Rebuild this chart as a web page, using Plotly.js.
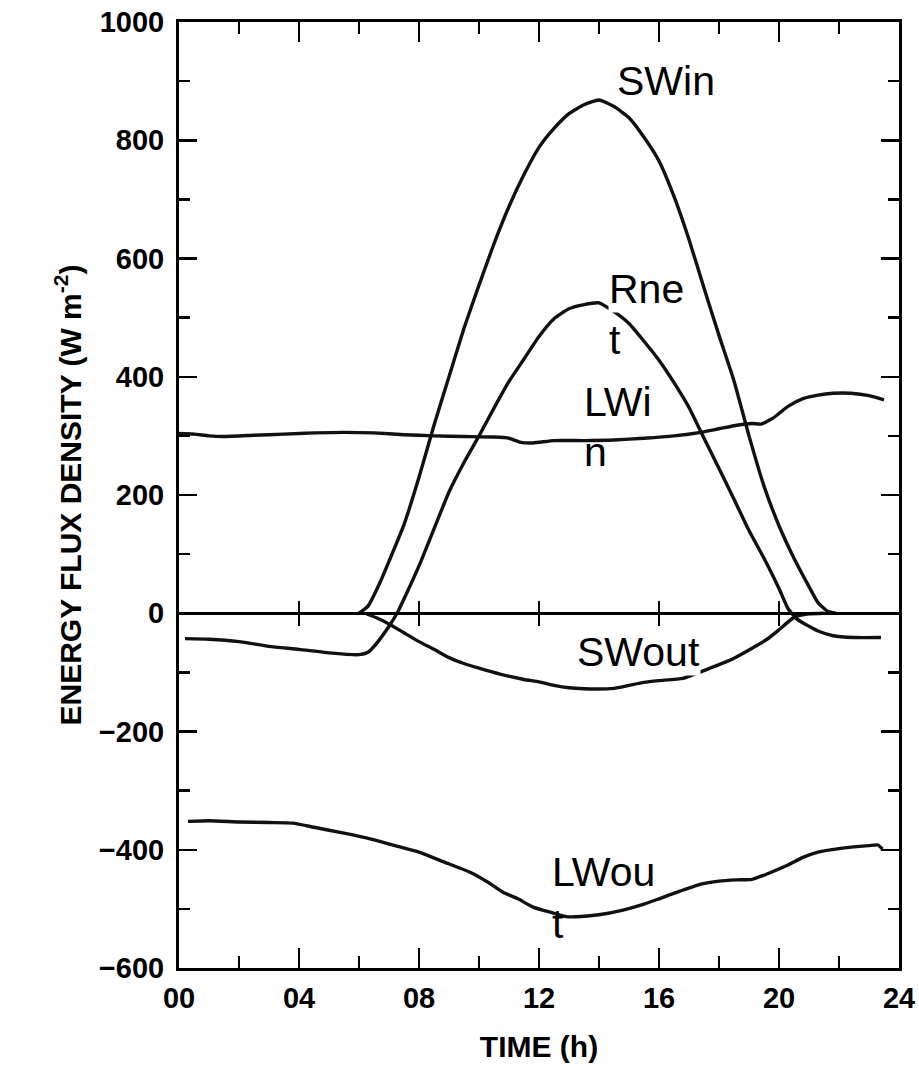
<!DOCTYPE html>
<html>
<head>
<meta charset="utf-8">
<script src="https://cdn.plot.ly/plotly-3.0.1.min.js"></script>
<style>html,body{margin:0;padding:0;background:#fff;}#chart{width:919px;height:1087px;}</style>
</head>
<body>
<div id="chart"></div>
<script>
// ---- Data (hours, W m-2) ----
const swinHours = [6.0, 6.3, 6.7, 7.0, 7.5, 8.0, 8.5, 9.0, 9.5, 10.0, 10.5, 11.0, 11.5, 12.0, 12.5, 13.0, 13.5, 14.0, 14.5, 15.0, 15.5, 16.0, 16.5, 17.0, 17.5, 18.0, 18.5, 19.0, 19.5, 20.0, 20.5, 21.0, 21.3, 21.6, 21.9];
const swinValues = [0, 12, 52, 88, 150, 230, 318, 400, 482, 555, 625, 688, 742, 788, 820, 845, 860, 868, 857, 838, 805, 765, 705, 632, 550, 470, 393, 300, 215, 148, 93, 45, 18, 4, 0];

const rnetHours = [0.2, 1.0, 2.0, 3.0, 4.0, 5.0, 6.0, 6.3, 6.6, 7.0, 7.3, 7.6, 8.0, 8.4, 9.0, 9.5, 10.0, 10.5, 11.0, 11.5, 12.0, 12.5, 13.0, 13.5, 14.0, 14.5, 15.0, 15.5, 16.0, 16.5, 17.0, 17.5, 18.0, 18.5, 19.0, 19.5, 20.0, 20.3, 20.6, 21.0, 21.3, 21.8, 22.5, 23.4];
const rnetValues = [-43, -44, -48, -56, -61, -67, -70, -66, -50, -22, 3, 35, 80, 130, 205, 255, 300, 347, 392, 430, 468, 498, 515, 522, 525, 510, 490, 460, 428, 390, 348, 296, 245, 193, 140, 93, 42, 8, -10, -22, -30, -38, -41, -41];

const swoutHours = [6.2, 6.6, 7.0, 7.5, 8.0, 8.5, 9.0, 9.5, 10.0, 10.7, 11.5, 12.0, 12.5, 13.0, 13.7, 14.5, 15.0, 15.5, 16.0, 16.8, 17.6, 18.0, 18.5, 19.0, 19.6, 20.0, 20.5, 21.0, 21.5];
const swoutValues = [0, -8, -18, -33, -48, -61, -75, -85, -93, -103, -112, -116, -122, -126, -128, -127, -122, -117, -114, -110, -95, -87, -76, -62, -44, -28, -7, -1, 0];

const lwinHours = [0.0, 0.5, 1.0, 1.5, 2.5, 3.5, 4.5, 5.5, 6.5, 7.5, 8.5, 9.5, 10.5, 11.0, 11.4, 11.8, 12.5, 13.5, 14.5, 15.5, 16.5, 17.4, 18.0, 18.6, 19.1, 19.4, 19.8, 20.3, 20.8, 21.3, 21.8, 22.4, 23.0, 23.5];
const lwinValues = [304, 303, 300, 299, 301, 303, 305, 306, 305, 302, 300, 299, 298, 296, 289, 288, 292, 292, 293, 296, 300, 306, 312, 318, 321, 320, 330, 350, 363, 369, 372, 372, 368, 361];

const lwoutHours = [0.3, 1.0, 2.0, 3.0, 3.8, 4.5, 5.5, 6.4, 7.2, 8.0, 8.8, 9.7, 10.3, 10.8, 11.3, 11.8, 12.4, 12.9, 13.4, 14.0, 14.8, 15.5, 16.0, 16.7, 17.4, 18.0, 18.6, 19.1, 19.6, 20.2, 20.8, 21.3, 22.0, 23.0, 23.3, 23.45];
const lwoutValues = [-352, -351, -353, -354, -355, -362, -372, -382, -393, -404, -420, -438, -455, -472, -483, -497, -506, -513, -513, -510, -502, -492, -483, -470, -458, -453, -451, -450, -441, -428, -413, -404, -398, -393, -392, -399];

const xTickStart = 0, xTickStep = 4;
const yTickStart = -600, yTickStep = 200;
const zeroLineTicks = [4, 8, 12, 16, 20];

// Series labels as drawn on the chart (wrapped as in the original)
const labels = [
  {text: 'SWin',  h: 14.57, v: 900,  box: false},
  {text: 'Rne',   h: 14.30, v: 548,  box: true},
  {text: 't',     h: 14.30, v: 463,  box: false},
  {text: 'LWi',   h: 13.47, v: 357,  box: false},
  {text: 'n',     h: 13.47, v: 272,  box: false},
  {text: 'SWout', h: 13.23, v: -66,  box: true},
  {text: 'LWou',  h: 12.40, v: -438, box: true},
  {text: 't',     h: 12.40, v: -526, box: false}
];

// ---- Chart ----
const lineStyle = {color: '#111', width: 3.4, shape: 'spline', smoothing: 0.5};
function series(name, xs, ys) {
  return {type: 'scatter', mode: 'lines', name: name, x: xs, y: ys, line: lineStyle, hoverinfo: 'x+y+name', showlegend: false};
}
const traces = [
  series('SWin', swinHours, swinValues),
  series('Rnet', rnetHours, rnetValues),
  series('SWout', swoutHours, swoutValues),
  series('LWin', lwinHours, lwinValues),
  series('LWout', lwoutHours, lwoutValues),
  {type: 'scatter', mode: 'lines', x: [], y: [], xaxis: 'x2', yaxis: 'y', showlegend: false, hoverinfo: 'skip'},
  {type: 'scatter', mode: 'lines', x: [], y: [], xaxis: 'x3', yaxis: 'y', showlegend: false, hoverinfo: 'skip'}
];

const FONT = 'Liberation Sans, Arial, sans-serif';
const tickFont = {family: FONT, size: 29, color: '#000', weight: 'bold'};
const zeroAxis = (dir) => ({
  overlaying: 'x', anchor: 'free', position: (0 - (-600)) / 1600, range: [0, 24],
  showline: true, linecolor: '#000', linewidth: 2.5,
  tickmode: 'array', tickvals: zeroLineTicks, ticks: dir, ticklen: 11, tickwidth: 2.5, tickcolor: '#000',
  showticklabels: false, showgrid: false, zeroline: false, fixedrange: true
});

const layout = {
  width: 919, height: 1087,
  margin: {l: 179, r: 20, t: 22, b: 119},
  paper_bgcolor: '#fff', plot_bgcolor: '#fff',
  showlegend: false,
  xaxis: {
    range: [0, 24], tickmode: 'linear', tick0: xTickStart, dtick: xTickStep, tickformat: '02d',
    ticks: 'inside', ticklen: 20, tickwidth: 2.5, tickcolor: '#000',
    minor: {dtick: 2, ticks: 'inside', ticklen: 12, tickwidth: 2.5, tickcolor: '#000', showgrid: false},
    showline: true, linecolor: '#000', linewidth: 3, mirror: 'ticks',
    showgrid: false, zeroline: false, tickfont: tickFont, ticklabelstandoff: 2,
    title: {text: 'TIME (h)', font: {family: FONT, size: 30, color: '#000', weight: 'bold'}, standoff: 24}
  },
  xaxis2: zeroAxis('outside'),
  xaxis3: zeroAxis('inside'),
  yaxis: {
    range: [-600, 1000], tickmode: 'linear', tick0: yTickStart, dtick: yTickStep,
    ticks: 'inside', ticklen: 18, tickwidth: 2.5, tickcolor: '#000',
    minor: {dtick: 100, ticks: 'inside', ticklen: 11, tickwidth: 2.5, tickcolor: '#000', showgrid: false},
    showline: true, linecolor: '#000', linewidth: 3, mirror: 'ticks',
    showgrid: false, zeroline: false, tickfont: tickFont, ticklabelstandoff: 6,
    title: {text: 'ENERGY FLUX DENSITY (W m<sup>-2</sup>)', font: {family: FONT, size: 30, color: '#000', weight: 'bold'}, standoff: 9}
  },
  annotations: labels.map(l => ({
    x: l.h, y: l.v, xref: 'x', yref: 'y', text: l.text, showarrow: false,
    xanchor: 'left', yanchor: 'middle', align: 'left',
    font: {family: FONT, size: 41, color: '#000'},
    bgcolor: l.box ? '#fff' : 'rgba(0,0,0,0)', borderpad: 0
  }))
};

Plotly.newPlot('chart', traces, layout, {staticPlot: true, displayModeBar: false});
</script>
</body>
</html>
